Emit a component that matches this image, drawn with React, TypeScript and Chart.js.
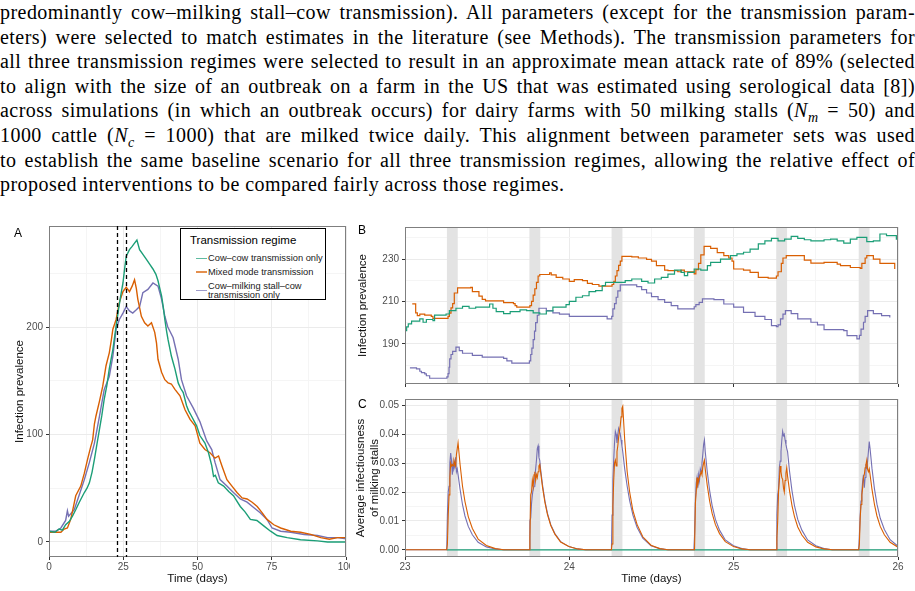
import React, { useEffect, useRef } from "react";
import { Chart, registerables } from "chart.js";

Chart.register(...registerables);
Chart.defaults.font.family = "'Liberation Sans', Arial, Helvetica, sans-serif";

type Pt = [number, number];

// ---------------- data ----------------
const legendTitle = "Transmission regime";
const seriesLabels = ["Cow–cow transmission only", "Mixed mode transmission", "Cow–milking stall–cow transmission only"];
const zoomWindow = [23, 26];
const milkingStarts = [23.255, 23.757, 24.257, 24.758, 25.259, 25.761];
const milkingEnds = [23.321, 23.823, 24.323, 24.824, 25.325, 25.827];

// Panel A: infection prevalence over the whole outbreak
const aCowCow: Pt[] = [
  [0, 10], [2, 9], [3.4, 12], [4.5, 11], [5.6, 16], [6.8, 19], [7.9, 24], [9, 30], [10.2, 37], [11.9, 46], [12.8, 50],
  [13.6, 55], [14.5, 65], [15.3, 77], [16.2, 92], [17, 105], [17.8, 118], [18.6, 133], [19.5, 146], [20.3, 161],
  [21.5, 179], [22.6, 201], [23.5, 218], [24.2, 230], [24.9, 241], [25.5, 255], [26, 266], [27.1, 272], [28, 275],
  [28.8, 278], [29.6, 281], [30.5, 272], [31.5, 268], [32.8, 263], [34, 258], [35, 254], [36, 249], [36.7, 243],
  [37.3, 236], [37.9, 229], [38.5, 218], [39, 207], [39.6, 196], [40.1, 188], [41.2, 173], [41.8, 167], [42.4, 161],
  [43.5, 148], [44.3, 143], [45.2, 139], [46.3, 127], [47, 122], [48, 117], [49.7, 108], [50.8, 99], [52.5, 92],
  [53.7, 83], [54.8, 71], [55.4, 61], [56, 62], [57, 55], [58.8, 52], [60.5, 47], [62.1, 43], [64.4, 33], [66, 28],
  [67.8, 21], [70, 20], [72.3, 15], [74.6, 10], [76.8, 6], [80.2, 4], [84.7, 2], [90.4, 1], [93.8, 0], [100, 0],
];
const aMixed: Pt[] = [
  [0, 9], [2.3, 9], [4, 9], [5.1, 12], [6.2, 13], [7.3, 21], [7.8, 27], [9, 43], [10.7, 52], [11.9, 64], [13, 77],
  [14, 88], [14.7, 95], [15.3, 110], [15.8, 117], [17, 131], [18.1, 145], [19.2, 164], [20.3, 176], [21, 188],
  [21.5, 198], [22.6, 207], [23.7, 223], [24.9, 233], [26, 237], [27.1, 233], [28, 238], [28.8, 244], [29.4, 236],
  [29.9, 226], [30.5, 218], [31.1, 210], [32.2, 204], [33.3, 201], [34.5, 204], [35.6, 195], [36.2, 185], [36.7, 170],
  [37.9, 158], [39, 151], [40.1, 148], [41.2, 147], [42.4, 142], [44.1, 136], [45.8, 123], [47.5, 114], [49.2, 108],
  [50.8, 92], [52.5, 86], [54.2, 83], [55.9, 78], [57.1, 80], [58.2, 71], [59.9, 58], [61.6, 52], [63.3, 46], [65, 41],
  [66.7, 40], [68.4, 37], [70.1, 33], [71.8, 27], [73.4, 21], [75.7, 16], [78, 13], [81.4, 10], [84.7, 9], [88.1, 7],
  [91.5, 4], [94.4, 2.5], [97.2, 4], [100, 4],
];
const aStall: Pt[] = [
  [0, 10], [2.3, 10], [4, 13], [5.6, 20], [6.2, 29], [6.6, 24], [8.5, 30], [10.2, 44], [11.9, 58], [13.6, 74],
  [15.3, 92], [17, 117], [18.6, 142], [20.3, 154], [21.5, 173], [22.6, 198], [23.7, 207], [24.9, 213], [26, 219],
  [27.1, 215], [28.2, 213], [29.4, 216], [30.5, 219], [31.6, 232], [33.3, 235], [35, 241], [36.7, 238], [37.9, 226],
  [39, 210], [40, 200], [41.8, 190], [43.5, 170], [44.6, 151], [46.3, 136], [48.5, 125], [50.8, 112], [53.1, 94],
  [54.8, 86], [55.9, 74], [57.6, 58], [59.9, 52], [62.1, 46], [64.4, 40], [66.7, 37], [68.9, 32], [71.2, 27],
  [73.4, 21], [75.1, 13], [78, 10], [81.4, 9], [85.9, 7], [90.4, 6], [93.8, 4], [97.2, 4], [100, 3],
];

// Panel B: infection prevalence, days 23-26 (step series)
const bCowCow: Pt[] = [
  [23.0, 196.3], [23.01, 198], [23.02, 199.4], [23.04, 200.7], [23.09, 201.8], [23.11, 200.2], [23.13, 201.5],
  [23.17, 201], [23.18, 203.6], [23.25, 204.1], [23.27, 205.7], [23.31, 206.8], [23.35, 207.7], [23.39, 206.8],
  [23.43, 207.3], [23.515, 208.8], [23.535, 206.8], [23.555, 205.2], [23.6, 204.3], [23.64, 205.2], [23.7, 206],
  [23.74, 205.7], [23.78, 204.6], [23.82, 204.1], [23.86, 205.5], [23.9, 207.3], [23.98, 208.5], [24.0, 210],
  [24.04, 212], [24.08, 212.7], [24.12, 214.6], [24.16, 215.1], [24.2, 217.5], [24.22, 219], [24.34, 219.8],
  [24.38, 220.6], [24.44, 219.5], [24.479, 218.7], [24.519, 220.6], [24.56, 221.4], [24.6, 222.9], [24.64, 224.8],
  [24.68, 223.7], [24.7, 222.2], [24.72, 223.7], [24.76, 225.3], [24.8, 224.8], [24.84, 226.9], [24.86, 228.4],
  [24.92, 230], [24.98, 231.6], [25.02, 232.4], [25.06, 233.2], [25.1, 234.7], [25.15, 237.1], [25.19, 238.6],
  [25.23, 239.7], [25.27, 238.6], [25.31, 239.4], [25.35, 240.7], [25.39, 239.7], [25.43, 239.1], [25.47, 238.6],
  [25.55, 239.1], [25.59, 239.4], [25.63, 238.6], [25.67, 237.5], [25.71, 239.4], [25.75, 240.2], [25.81, 238.2],
  [25.85, 238.6], [25.89, 241.8], [25.93, 241], [25.99, 239.4], [26.0, 239.4],
];
const bMixed: Pt[] = [
  [23.044, 208.9], [23.065, 204.6], [23.075, 203.3], [23.09, 204], [23.12, 203.6], [23.16, 203], [23.17, 202],
  [23.262, 203], [23.27, 204.5], [23.28, 207], [23.29, 209], [23.3, 214], [23.32, 216.4], [23.4, 216.6], [23.41, 214.6],
  [23.45, 212.5], [23.47, 211], [23.49, 210.3], [23.6, 209.5], [23.66, 209], [23.67, 208], [23.68, 207.3], [23.76, 208],
  [23.77, 210], [23.78, 213], [23.79, 216], [23.8, 219], [23.81, 222], [23.82, 222.7], [23.88, 223.5], [23.89, 222.5],
  [23.92, 221.4], [23.96, 220.6], [24.0, 219.5], [24.03, 220.3], [24.08, 219.8], [24.11, 218.5], [24.14, 218],
  [24.18, 217.2], [24.26, 218], [24.27, 219.5], [24.28, 222], [24.29, 224.5], [24.3, 227], [24.31, 229], [24.32, 231.3],
  [24.38, 231], [24.42, 230.5], [24.47, 229.8], [24.5, 229], [24.53, 226.9], [24.58, 224.8], [24.6, 224.5], [24.66, 224],
  [24.68, 224.8], [24.7, 224], [24.76, 223], [24.77, 225], [24.786, 228], [24.8, 232], [24.82, 236], [24.86, 235],
  [24.9, 233], [24.94, 231.6], [24.97, 230.5], [24.99, 229], [25.0, 225.3], [25.06, 224.8], [25.1, 223.7],
  [25.15, 221.4], [25.21, 221], [25.26, 222], [25.27, 224], [25.29, 228], [25.3, 230.5], [25.32, 231.6], [25.43, 229.5],
  [25.47, 228.1], [25.55, 228.4], [25.63, 227.6], [25.65, 226.9], [25.71, 226], [25.77, 225.6], [25.78, 228],
  [25.8, 230.5], [25.81, 231.6], [25.85, 230], [25.89, 228], [25.98, 225.3],
];
const bStall: Pt[] = [
  [23.03, 178.7], [23.07, 178.2], [23.09, 177.1], [23.1, 176.5], [23.12, 175.9], [23.13, 175], [23.15, 173.8],
  [23.255, 174.5], [23.262, 176], [23.268, 179], [23.272, 182.9], [23.28, 185], [23.29, 186.5], [23.31, 188.5],
  [23.33, 186.8], [23.35, 185.6], [23.41, 184.6], [23.47, 183.8], [23.6, 183.2], [23.62, 182], [23.65, 180.9],
  [23.757, 182], [23.765, 185], [23.772, 188], [23.78, 192], [23.788, 196], [23.795, 200], [23.805, 203.5],
  [23.815, 206.8], [23.86, 205.7], [23.9, 204.6], [23.94, 204], [24.0, 203], [24.23, 201.8], [24.258, 203],
  [24.265, 206.5], [24.275, 209], [24.285, 212], [24.295, 215], [24.31, 217.8], [24.41, 217], [24.44, 215.6],
  [24.47, 214], [24.5, 212.3], [24.54, 210.9], [24.58, 209.6], [24.62, 208], [24.66, 206.5], [24.76, 207.5],
  [24.77, 208.5], [24.79, 209.6], [24.81, 211.2], [24.88, 210.9], [24.94, 208.8], [25.0, 207.3], [25.06, 204.9],
  [25.13, 203], [25.19, 201.5], [25.23, 198.6], [25.26, 198.1], [25.27, 199], [25.285, 201.8], [25.3, 204],
  [25.315, 205.7], [25.35, 204.3], [25.39, 201.8], [25.47, 200.2], [25.51, 199], [25.55, 196.7], [25.67, 196.3],
  [25.69, 193.9], [25.75, 192.4], [25.765, 194], [25.775, 197], [25.79, 200.2], [25.8, 203], [25.815, 205.7],
  [25.85, 204.3], [25.9, 203.3], [25.95, 202.5],
];

// Panel C: average infectiousness of milking stalls
const cCowCow: Pt[] = [[23.254, 0], [26.0, 0]];
const cMixed: Pt[] = [
  [23.0, 0], [23.254, 0], [23.258, 0.002], [23.263, 0.012], [23.268, 0.019], [23.273, 0.025], [23.278, 0.03], [23.283, 0.029],
  [23.288, 0.0295], [23.293, 0.029], [23.298, 0.031], [23.303, 0.03], [23.308, 0.029], [23.313, 0.033], [23.318, 0.035],
  [23.323, 0.037], [23.335, 0.0296], [23.35, 0.022], [23.365, 0.0167], [23.385, 0.0115], [23.41, 0.0074], [23.445, 0.0037],
  [23.495, 0.0015], [23.55, 0.0004], [23.6, 0],
  [23.756, 0], [23.76, 0.004], [23.765, 0.019], [23.77, 0.02], [23.775, 0.024], [23.78, 0.022], [23.785, 0.026], [23.79, 0.027],
  [23.795, 0.024], [23.8, 0.026], [23.805, 0.025], [23.81, 0.027], [23.815, 0.029], [23.82, 0.0295], [23.825, 0.027],
  [23.837, 0.0216], [23.852, 0.0162], [23.867, 0.0122], [23.887, 0.0084], [23.912, 0.0054], [23.947, 0.0027], [23.997, 0.0011],
  [24.05, 0.0003], [24.1, 0],
  [24.256, 0], [24.26, 0.002], [24.265, 0.015], [24.27, 0.024], [24.275, 0.03], [24.28, 0.031], [24.285, 0.029], [24.29, 0.034],
  [24.295, 0.036], [24.3, 0.039], [24.305, 0.041], [24.31, 0.043], [24.315, 0.046], [24.32, 0.049], [24.325, 0.0497],
  [24.337, 0.038], [24.352, 0.027], [24.367, 0.02], [24.387, 0.0135], [24.412, 0.0088], [24.447, 0.0045], [24.497, 0.0016],
  [24.55, 0.0004], [24.6, 0],
  [24.758, 0], [24.762, 0], [24.767, 0.016], [24.772, 0.02], [24.777, 0.025], [24.782, 0.0226], [24.787, 0.024], [24.792, 0.025],
  [24.797, 0.026], [24.802, 0.027], [24.807, 0.026], [24.812, 0.0285], [24.817, 0.03], [24.822, 0.031], [24.827, 0.028],
  [24.839, 0.0224], [24.854, 0.0168], [24.869, 0.0126], [24.889, 0.0087], [24.914, 0.0056], [24.949, 0.0028], [24.999, 0.0011],
  [25.05, 0.0003], [25.1, 0],
  [25.259, 0], [25.263, 0.004], [25.268, 0.01], [25.273, 0.02], [25.278, 0.024], [25.283, 0.029], [25.288, 0.027], [25.293, 0.025],
  [25.298, 0.0244], [25.303, 0.0215], [25.308, 0.02], [25.313, 0.024], [25.318, 0.0265], [25.323, 0.0284], [25.328, 0.0255],
  [25.34, 0.0204], [25.355, 0.0153], [25.37, 0.0115], [25.39, 0.0079], [25.415, 0.0051], [25.45, 0.0026], [25.5, 0.001],
  [25.55, 0.0003], [25.6, 0],
  [25.761, 0], [25.765, 0.002], [25.77, 0.011], [25.775, 0.0157], [25.78, 0.019], [25.785, 0.0215], [25.79, 0.025], [25.795, 0.026],
  [25.8, 0.0284], [25.805, 0.0295], [25.81, 0.031], [25.815, 0.0278], [25.82, 0.027], [25.825, 0.028], [25.83, 0.026],
  [25.842, 0.0208], [25.857, 0.0156], [25.872, 0.0117], [25.892, 0.0081], [25.917, 0.0052], [25.952, 0.0026], [26.0, 0.0009],
];
const cStall: Pt[] = [
  [23.0, 0], [23.254, 0], [23.258, 0.012], [23.263, 0.02], [23.268, 0.022], [23.273, 0.03], [23.278, 0.0335], [23.283, 0.031],
  [23.288, 0.026], [23.293, 0.03], [23.298, 0.028], [23.303, 0.029], [23.308, 0.032], [23.313, 0.027], [23.318, 0.028],
  [23.323, 0.026], [23.335, 0.021], [23.35, 0.0156], [23.365, 0.0117], [23.385, 0.0081], [23.41, 0.0052], [23.445, 0.0026],
  [23.495, 0.001], [23.55, 0.0003], [23.6, 0],
  [23.756, 0], [23.76, 0.01], [23.765, 0.011], [23.77, 0.016], [23.775, 0.019], [23.78, 0.021], [23.785, 0.022], [23.79, 0.025],
  [23.795, 0.028], [23.8, 0.031], [23.805, 0.035], [23.81, 0.036], [23.815, 0.032], [23.82, 0.031], [23.825, 0.028],
  [23.837, 0.0224], [23.852, 0.0168], [23.867, 0.0126], [23.887, 0.0087], [23.912, 0.0056], [23.947, 0.0028], [23.997, 0.0011],
  [24.05, 0.0003], [24.1, 0],
  [24.256, 0], [24.26, 0.012], [24.265, 0.024], [24.27, 0.031], [24.275, 0.037], [24.28, 0.041], [24.285, 0.04], [24.29, 0.037],
  [24.295, 0.04], [24.3, 0.042], [24.305, 0.041], [24.31, 0.04], [24.315, 0.038], [24.32, 0.036], [24.325, 0.034],
  [24.337, 0.028], [24.352, 0.022], [24.367, 0.017], [24.387, 0.012], [24.412, 0.0078], [24.447, 0.004], [24.497, 0.0014],
  [24.55, 0.0004], [24.6, 0],
  [24.758, 0], [24.762, 0.005], [24.767, 0.017], [24.772, 0.023], [24.777, 0.025], [24.782, 0.0215], [24.787, 0.026], [24.792, 0.024],
  [24.797, 0.028], [24.802, 0.027], [24.807, 0.03], [24.812, 0.033], [24.817, 0.0364], [24.822, 0.038], [24.827, 0.034],
  [24.839, 0.0272], [24.854, 0.0204], [24.869, 0.0153], [24.889, 0.0105], [24.914, 0.0068], [24.949, 0.0034], [24.999, 0.0014],
  [25.05, 0.0004], [25.1, 0],
  [25.259, 0], [25.263, 0.012], [25.268, 0.019], [25.273, 0.021], [25.278, 0.0284], [25.283, 0.0307], [25.288, 0.034], [25.293, 0.038],
  [25.298, 0.041], [25.303, 0.0395], [25.308, 0.04], [25.313, 0.038], [25.318, 0.0365], [25.323, 0.035], [25.328, 0.034],
  [25.34, 0.0272], [25.355, 0.0204], [25.37, 0.0153], [25.39, 0.0105], [25.415, 0.0068], [25.45, 0.0034], [25.5, 0.0014],
  [25.55, 0.0004], [25.6, 0],
  [25.761, 0], [25.765, 0.005], [25.77, 0.012], [25.775, 0.0169], [25.78, 0.02], [25.785, 0.0238], [25.79, 0.026], [25.795, 0.0215],
  [25.8, 0.025], [25.805, 0.029], [25.81, 0.0284], [25.815, 0.0307], [25.82, 0.034], [25.825, 0.0375], [25.83, 0.035],
  [25.842, 0.028], [25.857, 0.021], [25.872, 0.0158], [25.892, 0.0109], [25.917, 0.007], [25.952, 0.0035], [26.0, 0.0012],
];

// ticks
const aXMajor = [0, 25, 50, 75, 100];
const aXMinor = [12.5, 37.5, 62.5, 87.5];
const aYMajor = [0, 100, 200];
const aYMinor = [50, 150, 250];
const bcXMajor = [23, 24, 25, 26];
const bcXMinor = [23.5, 24.5, 25.5];
const bYMajor = [190, 210, 230];
const bYMinor = [180, 200, 220, 240];
const cYMajor = [0, 0.01, 0.02, 0.03, 0.04, 0.05];
const cYMinor = [0.005, 0.015, 0.025, 0.035, 0.045];

// ---------------- styling ----------------
const GREEN = "#1b9e77";
const ORANGE = "#d95f02";
const PURPLE = "#7570b3";
const GRID_MAJOR = "#ebebeb";
const GRID_MINOR = "#f5f5f5";
const TICK_MARK = "#333333";
const TICK_TEXT = "#4d4d4d";
const TITLE_COLOR = "#111111";
const BAND = "#e3e3e3";
const BORDER = "#7f7f7f";

const near = (a: number, b: number) => Math.abs(a - b) < 1e-9;

function axis(o: {
  min: number; max: number; major: number[]; minor: number[]; size: number; isY: boolean;
  label?: (v: number) => string; title?: string | string[]; titlePad?: { top: number; bottom: number }; tickPad: number;
}) {
  const isMajor = (v: number) => o.major.some((m) => near(m, v));
  return {
    type: "linear",
    min: o.min,
    max: o.max,
    afterBuildTicks: (s: any) => {
      s.ticks = [...o.major, ...o.minor].sort((a, b) => a - b).map((value) => ({ value }));
    },
    afterFit: (s: any) => {
      if (o.isY) s.width = o.size;
      else s.height = o.size;
      s.paddingLeft = 0; s.paddingRight = 0; s.paddingTop = 0; s.paddingBottom = 0;
    },
    grid: {
      color: (c: any) => (c.tick && isMajor(c.tick.value) ? GRID_MAJOR : GRID_MINOR),
      lineWidth: 1,
      drawTicks: true,
      tickLength: 3,
      tickWidth: 1,
      tickColor: (c: any) => (c.tick && isMajor(c.tick.value) ? TICK_MARK : "rgba(0,0,0,0)"),
    },
    border: { display: false },
    ticks: {
      autoSkip: false,
      maxRotation: 0,
      minRotation: 0,
      padding: o.tickPad,
      color: TICK_TEXT,
      font: { size: 10 },
      callback: (v: any) => (o.label && isMajor(Number(v)) ? o.label(Number(v)) : ""),
    },
    title: o.title
      ? { display: true, text: o.title, color: TITLE_COLOR, font: { size: 11.5 }, padding: o.titlePad }
      : { display: false },
  };
}

function ds(data: Pt[], color: string, stepped: boolean, width = 1.2) {
  return {
    data: data.map(([x, y]) => ({ x, y })),
    borderColor: color,
    backgroundColor: color,
    borderWidth: width,
    pointRadius: 0,
    fill: false,
    tension: 0,
    stepped: stepped ? "before" : false,
  };
}

const borderPlugin = {
  id: "panelBorder",
  afterDatasetsDraw(chart: any) {
    const { ctx, chartArea: a } = chart;
    ctx.save();
    ctx.strokeStyle = BORDER;
    ctx.lineWidth = 1;
    ctx.strokeRect(Math.round(a.left) + 0.5, Math.round(a.top) + 0.5, Math.round(a.right - a.left) - 1, Math.round(a.bottom - a.top) - 1);
    ctx.restore();
  },
};

const bandsPlugin = {
  id: "milkingBands",
  beforeDatasetsDraw(chart: any) {
    const { ctx, chartArea: a, scales } = chart;
    ctx.save();
    ctx.fillStyle = BAND;
    milkingStarts.forEach((s, i) => {
      const x0 = scales.x.getPixelForValue(s);
      const x1 = scales.x.getPixelForValue(milkingEnds[i]);
      ctx.fillRect(x0, a.top, x1 - x0, a.bottom - a.top);
    });
    ctx.restore();
  },
};

const dashPlugin = {
  id: "zoomWindow",
  afterDatasetsDraw(chart: any) {
    const { ctx, chartArea: a, scales } = chart;
    ctx.save();
    ctx.strokeStyle = "#000";
    ctx.lineWidth = 1.3;
    ctx.setLineDash([4, 3]);
    zoomWindow.forEach((t) => {
      const x = Math.round(scales.x.getPixelForValue(t)) + 0.5;
      ctx.beginPath();
      ctx.moveTo(x, a.top);
      ctx.lineTo(x, a.bottom);
      ctx.stroke();
    });
    ctx.restore();
  },
};

const baseOptions = (padding: any) => ({
  responsive: false,
  animation: false,
  devicePixelRatio: 1,
  events: [],
  layout: { padding, autoPadding: false },
  plugins: { legend: { display: false }, tooltip: { enabled: false } },
});

const configA = () => ({
  type: "line",
  data: { datasets: [ds(aCowCow, GREEN, false, 1.4), ds(aMixed, ORANGE, false, 1.4), ds(aStall, PURPLE, false, 1.4)] },
  options: {
    ...baseOptions({ left: 0, top: 6, right: 4, bottom: 0 }),
    scales: {
      x: axis({ min: 0, max: 100, major: aXMajor, minor: aXMinor, size: 34, isY: false, label: (v) => String(v), title: "Time (days)", titlePad: { top: 0, bottom: 5 }, tickPad: 1 }),
      y: axis({ min: -14, max: 294, major: aYMajor, minor: aYMinor, size: 49, isY: true, label: (v) => String(v), title: "Infection prevalence", titlePad: { top: 13, bottom: 0 }, tickPad: 3 }),
    },
  },
  plugins: [borderPlugin, dashPlugin],
});

const configB = () => ({
  type: "line",
  data: { datasets: [ds(bCowCow, GREEN, true), ds(bMixed, ORANGE, true), ds(bStall, PURPLE, true)] },
  options: {
    ...baseOptions({ left: 0, top: 7, right: 17, bottom: 0 }),
    scales: {
      x: axis({ min: 23, max: 26, major: bcXMajor, minor: bcXMinor, size: 8, isY: false, tickPad: 1 }),
      y: axis({ min: 171.1, max: 245.1, major: bYMajor, minor: bYMinor, size: 55, isY: true, label: (v) => String(v), title: "Infection prevalence", titlePad: { top: 6, bottom: 0 }, tickPad: 3 }),
    },
  },
  plugins: [bandsPlugin, borderPlugin],
});

const configC = () => ({
  type: "line",
  data: { datasets: [ds(cMixed, ORANGE, false, 1.1), ds(cStall, PURPLE, false, 1.1), ds(cCowCow, GREEN, false, 1.3)] },
  options: {
    ...baseOptions({ left: 0, top: 7, right: 17, bottom: 0 }),
    scales: {
      x: axis({ min: 23, max: 26, major: bcXMajor, minor: bcXMinor, size: 34, isY: false, label: (v) => String(v), title: "Time (days)", titlePad: { top: 0, bottom: 5 }, tickPad: 1 }),
      y: axis({ min: -0.0025, max: 0.0522, major: cYMajor, minor: cYMinor, size: 55, isY: true, label: (v) => v.toFixed(2), title: ["Average infectiousness", "of milking stalls"], titlePad: { top: 4, bottom: 0 }, tickPad: 3 }),
    },
  },
  plugins: [bandsPlugin, borderPlugin],
});

function ChartCanvas(props: { config: () => any; left: number; top: number; width: number; height: number }) {
  const ref = useRef<HTMLCanvasElement>(null);
  useEffect(() => {
    const chart = new Chart(ref.current as HTMLCanvasElement, props.config());
    return () => chart.destroy();
  }, []);
  return (
    <canvas
      ref={ref}
      width={props.width}
      height={props.height}
      style={{ position: "absolute", left: props.left, top: props.top, width: props.width, height: props.height }}
    />
  );
}

const paraLines: React.ReactNode[] = [
  "predominantly cow–milking stall–cow transmission). All parameters (except for the transmission param-",
  "eters) were selected to match estimates in the literature (see Methods). The transmission parameters for",
  "all three transmission regimes were selected to result in an approximate mean attack rate of 89% (selected",
  "to align with the size of an outbreak on a farm in the US that was estimated using serological data [8])",
  <>
    across simulations (in which an outbreak occurs) for dairy farms with 50 milking stalls (<i>N</i>
    <sub style={{ fontSize: "0.7em", lineHeight: 0, fontStyle: "italic" }}>m</sub> = 50) and
  </>,
  <>
    1000 cattle (<i>N</i>
    <sub style={{ fontSize: "0.7em", lineHeight: 0, fontStyle: "italic" }}>c</sub> = 1000) that are milked twice daily. This alignment between parameter sets was used
  </>,
  "to establish the same baseline scenario for all three transmission regimes, allowing the relative effect of",
  "proposed interventions to be compared fairly across those regimes.",
];

function LegendItem(props: { color: string; top: number; lines: string[] }) {
  const lh = 9;
  const h = props.lines.length * lh;
  return (
    <>
      <div style={{ position: "absolute", left: 15, top: props.top - 0.75, width: 11, height: 1.5, background: props.color, opacity: 0.7 }} />
      <div style={{ position: "absolute", left: 27, top: props.top - h / 2, fontSize: 9.3, lineHeight: `${lh}px`, color: "#1a1a1a", whiteSpace: "nowrap" }}>
        {props.lines.map((l, i) => (
          <div key={i}>{l}</div>
        ))}
      </div>
    </>
  );
}

export default function App() {
  const sans = "'Liberation Sans', Arial, Helvetica, sans-serif";
  return (
    <div style={{ position: "absolute", left: 0, top: 0, width: 915, height: 591, overflow: "hidden", background: "#fff" }}>
      <div style={{ position: "absolute", left: 0, top: 0, width: 915, fontFamily: "'Liberation Serif', 'Times New Roman', serif", fontSize: 20, letterSpacing: "0.45px", lineHeight: "24.6px", color: "#000" }}>
        {paraLines.map((l, i) => (
          <div
            key={i}
            style={{
              width: 915,
              whiteSpace: "nowrap",
              textAlign: i === paraLines.length - 1 ? "left" : "justify",
              textAlignLast: i === paraLines.length - 1 ? "left" : "justify",
              height: 24.6,
            }}
          >
            {l}
          </div>
        ))}
      </div>

      <ChartCanvas config={configA} left={0} top={220} width={350} height={371} />
      <ChartCanvas config={configB} left={350} top={220} width={565} height={172} />
      <ChartCanvas config={configC} left={350} top={392} width={565} height={199} />

      <div style={{ position: "absolute", left: 14, top: 226, fontFamily: sans, fontSize: 12, lineHeight: "14px" }}>A</div>
      <div style={{ position: "absolute", left: 358, top: 223, fontFamily: sans, fontSize: 12, lineHeight: "14px" }}>B</div>
      <div style={{ position: "absolute", left: 358, top: 397, fontFamily: sans, fontSize: 12, lineHeight: "14px" }}>C</div>

      <div style={{ position: "absolute", left: 180, top: 228, width: 146, height: 72, boxSizing: "border-box", border: "1px solid #000", background: "#fff", fontFamily: sans }}>
        <div style={{ position: "absolute", left: 9, top: 4, fontSize: 11.5, lineHeight: "14px", color: "#000", whiteSpace: "nowrap" }}>{legendTitle}</div>
        <LegendItem color={GREEN} top={29.5} lines={[seriesLabels[0]]} />
        <LegendItem color={ORANGE} top={43} lines={[seriesLabels[1]]} />
        <LegendItem color={PURPLE} top={61.5} lines={["Cow–milking stall–cow", "transmission only"]} />
      </div>
    </div>
  );
}
